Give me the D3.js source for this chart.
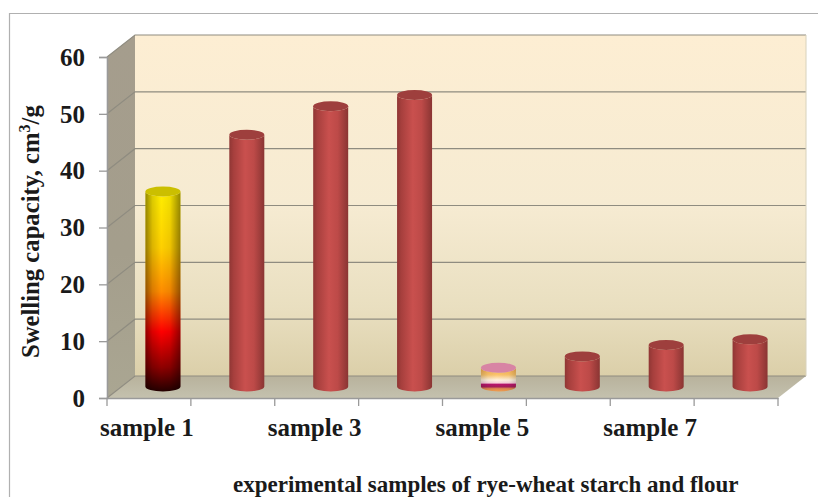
<!DOCTYPE html>
<html><head><meta charset="utf-8">
<script src="https://cdn.jsdelivr.net/npm/d3@7"></script>
<style>html,body{margin:0;padding:0;background:#fff}svg{display:block}text{font-family:"Liberation Serif",serif;font-weight:bold;fill:#1a1a1a}</style>
</head><body><div id="c"></div>
<script>
const categories=["sample 1","sample 2","sample 3","sample 4","sample 5","sample 6","sample 7","sample 8"];
const shownLabels=["sample 1","sample 3","sample 5","sample 7"];
const values=[35,45,50,52,4,6,8,9];
const yTicks=[0,10,20,30,40,50,60];
const yTitleParts=["Swelling capacity, cm","3","/g"];
const xTitle="experimental samples of rye-wheat starch and flour";

const W=818,H=497,dx=28,dy=22,barDx=14,barDyTop=7.5,barDyBottom=11.5;
const x=d3.scaleBand().domain(categories).range([107,778]);
const y=d3.scaleLinear().domain([0,60]).range([398,57]);
const svg=d3.select("#c").append("svg").attr("width",W).attr("height",H);
const defs=svg.append("defs");
function lg(id,stops,hor){const g=defs.append("linearGradient").attr("id",id).attr("x1",0).attr("y1",0).attr("x2",hor?1:0).attr("y2",hor?0:1);
 stops.forEach(s=>g.append("stop").attr("offset",s[0]).attr("stop-color",s[1]).attr("stop-opacity",s[2]==null?1:s[2]));}
lg("wall",[[0,"#fdeed3"],[.5,"#f6ebd2"],[.8,"#e9dfc0"],[1,"#dbcfa9"]]);
lg("side",[[0,"#a59d8d"],[.6,"#a49e8c"],[1,"#aaa692"]]);
lg("floor",[[0,"#b8b29c"],[1,"#c4c1ae"]]);
lg("red",[[0,"#8f3634"],[.12,"#a63f3d"],[.45,"#c9504e"],[.7,"#bd4a48"],[1,"#8a3533"]],true);
lg("shade",[[0,"#000",.42],[.2,"#000",.14],[.45,"#000",0],[.7,"#000",.06],[1,"#000",.42]],true);
lg("shadeLight",[[0,"#000",.16],[.2,"#000",.04],[.45,"#000",0],[.8,"#000",.03],[1,"#000",.16]],true);
lg("flame",[[0,"#ffee00"],[.28,"#ffd000"],[.5,"#ff8c00"],[.7,"#ff0000"],[.88,"#8e0000"],[1,"#240000"]]);
lg("stripe",[[0,"#f6a84a"],[.3,"#fbc56c"],[.52,"#fff2e0"],[.64,"#f8d0dc"],[.7,"#b8146c"],[.8,"#a8205c"],[.88,"#e08850"],[1,"#f0a050"]]);

svg.append("path").attr("d",`M9.5,${H}V13.5H${W}`).attr("fill","none").attr("stroke","#b0b0b0").attr("stroke-width",1.2);

const x0=x.range()[0],x1=x.range()[1];
svg.append("rect").attr("x",x0+dx).attr("y",y(60)-dy).attr("width",x1-x0).attr("height",y(0)-y(60)).attr("fill","url(#wall)");
svg.append("path").attr("d",`M${x0},${y(60)}L${x0+dx},${y(60)-dy}V${y(0)-dy}L${x0},${y(0)}Z`).attr("fill","url(#side)");
svg.append("path").attr("d",`M${x0},${y(0)}L${x0+dx},${y(0)-dy}H${x1+dx}L${x1},${y(0)}Z`).attr("fill","url(#floor)");
yTicks.forEach(t=>{
 svg.append("path").attr("d",`M${x0},${y(t)}L${x0+dx},${y(t)-dy}H${x1+dx}`).attr("fill","none").attr("stroke","#8f8c80").attr("stroke-width",1.2);
});
svg.append("line").attr("x1",x1+dx).attr("x2",x1+dx).attr("y1",y(60)-dy).attr("y2",y(0)-dy).attr("stroke","#d8d2bc");

const ax=svg.append("g").attr("transform",`translate(${x0},0)`).call(d3.axisLeft(y).tickValues(yTicks).tickSize(8).tickFormat(d3.format("d")));
const bx=svg.append("g").attr("transform",`translate(0,${y(0)})`).call(d3.axisBottom(x).tickValues([]).tickSize(0));
const edgeTicks=d3.range(categories.length+1).map(i=>x0+i*x.step());
bx.selectAll(".t").data(edgeTicks).join("line").attr("class","t").attr("x1",d=>d).attr("x2",d=>d).attr("y1",0).attr("y2",8).attr("stroke","#9a9a9a").attr("stroke-width",1.3);
[ax,bx].forEach(g=>{g.selectAll(".domain").attr("stroke","#9a9a9a").attr("stroke-width",1.6);g.selectAll(".tick line").attr("stroke","#9a9a9a").attr("stroke-width",1.3);});
ax.selectAll("text").attr("font-size",25).attr("x",-22).attr("dy","0.33em").style("font-family",'"Liberation Serif",serif').style("font-weight","bold").attr("fill","#1a1a1a");

const rx=17.5,ry=5;
const bars=svg.selectAll("g.bar").data(values).join("g").attr("class","bar");
bars.each(function(v,i){
 const g=d3.select(this),cx=x(categories[i])+x.bandwidth()/2+barDx,top=y(v)-barDyTop,bot=y(0)-barDyBottom;
 const body=`M${cx-rx},${top}V${bot}A${rx},${ry} 0 0 0 ${cx+rx},${bot}V${top}A${rx},${ry} 0 0 1 ${cx-rx},${top}Z`;
 const special=i===0||i===4;
 g.append("path").attr("d",body).attr("fill",i===0?"url(#flame)":i===4?"url(#stripe)":"url(#red)");
 if(special)g.append("path").attr("d",body).attr("fill",i===0?"url(#shade)":"url(#shadeLight)");
 g.append("ellipse").attr("cx",cx).attr("cy",top).attr("rx",rx).attr("ry",ry).attr("fill",i===0?"#cbbf00":i===4?"#d884a4":"#9e3f3d");
});

svg.selectAll("text.xl").data(shownLabels).join("text").attr("class","xl").attr("x",d=>x(d)+x.bandwidth()/2-2).attr("y",436).attr("text-anchor","middle").attr("font-size",25).text(d=>d);
const yt=svg.append("text").attr("transform","translate(39,358) rotate(-90)").attr("font-size",24.7);
yt.append("tspan").text(yTitleParts[0]);
yt.append("tspan").attr("font-size",16).attr("dy",-9).text(yTitleParts[1]);
yt.append("tspan").attr("dy",9).text(yTitleParts[2]);
svg.append("text").attr("x",233).attr("y",491.5).attr("font-size",23).text(xTitle);
</script></body></html>
